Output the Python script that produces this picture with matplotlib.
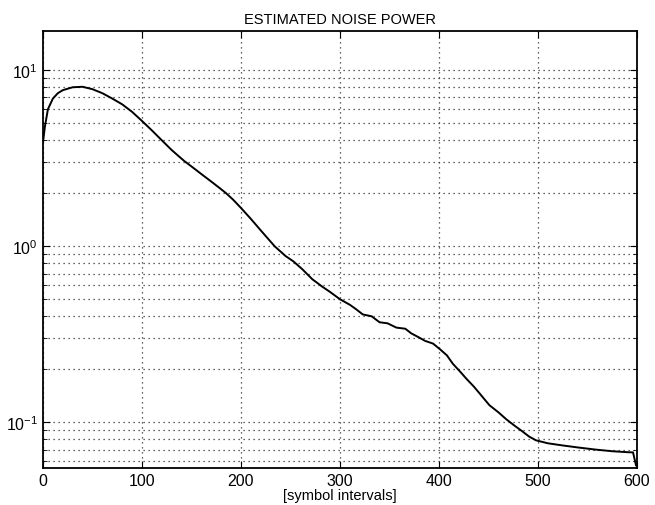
import numpy as np
import matplotlib.pyplot as plt
from matplotlib.ticker import LogLocator, NullFormatter

plt.rcParams['font.family'] = ['Liberation Sans', 'DejaVu Sans']

# values
sym_idx = [0, 2, 5, 10, 15, 20, 30, 40, 50, 60, 70, 80, 90, 100, 110, 120, 130,
           137, 143, 150, 160, 170, 178, 185, 192, 200, 210, 220, 234, 245, 253,
           262, 272, 282, 290, 300, 310, 316, 323, 332, 340, 348, 357, 366, 372,
           379, 386, 394, 401, 408, 414, 421, 428, 435, 441, 446, 451, 460, 468,
           476, 484, 491, 498, 510, 524, 540, 558, 575, 591, 596, 599]
noise_pw = [3.9, 4.8, 6.0, 6.9, 7.4, 7.7, 8.0, 8.05, 7.8, 7.4, 6.9, 6.4, 5.8, 5.15,
            4.55, 4.0, 3.52, 3.25, 3.04, 2.84, 2.57, 2.33, 2.15, 2.0, 1.84, 1.65,
            1.43, 1.23, 1.0, 0.88, 0.82, 0.74, 0.65, 0.59, 0.55, 0.5, 0.465, 0.44,
            0.41, 0.40, 0.37, 0.365, 0.345, 0.34, 0.32, 0.305, 0.29, 0.28, 0.26,
            0.24, 0.215, 0.195, 0.176, 0.16, 0.146, 0.135, 0.125, 0.114, 0.104,
            0.096, 0.089, 0.083, 0.079, 0.076, 0.074, 0.072, 0.070, 0.0685,
            0.0676, 0.0675, 0.057]

fig = plt.figure(figsize=(6.55, 5.06), dpi=100)
ax = fig.add_axes([0.0656, 0.0731, 0.9069, 0.8637])

ax.semilogy(sym_idx, noise_pw, color='black', lw=1.4)

ax.set_xlim(0, 600)
ax.set_ylim(0.055, 16.7)
ax.set_xticks([0, 100, 200, 300, 400, 500, 600])
ax.yaxis.set_major_locator(LogLocator(base=10))
ax.yaxis.set_minor_locator(LogLocator(base=10, subs=np.arange(2, 10)))
ax.yaxis.set_minor_formatter(NullFormatter())

ax.grid(True, which='both', axis='y', linestyle=(0, (1, 3)), color='#333333', lw=0.9)
ax.grid(True, which='major', axis='x', linestyle=(0, (1, 3)), color='#333333', lw=0.9)
ax.tick_params(direction='in', which='both', top=True, right=True, labelsize=11.5)
ax.tick_params(which='minor', length=3)
ax.tick_params(which='major', length=5)
for s in ax.spines.values():
    s.set_linewidth(1.3)

ax.set_title('ESTIMATED NOISE POWER', fontsize=10.5, pad=6)
ax.set_xlabel('[symbol intervals]', fontsize=10.5, labelpad=0)

plt.savefig('out.png', dpi=100)
